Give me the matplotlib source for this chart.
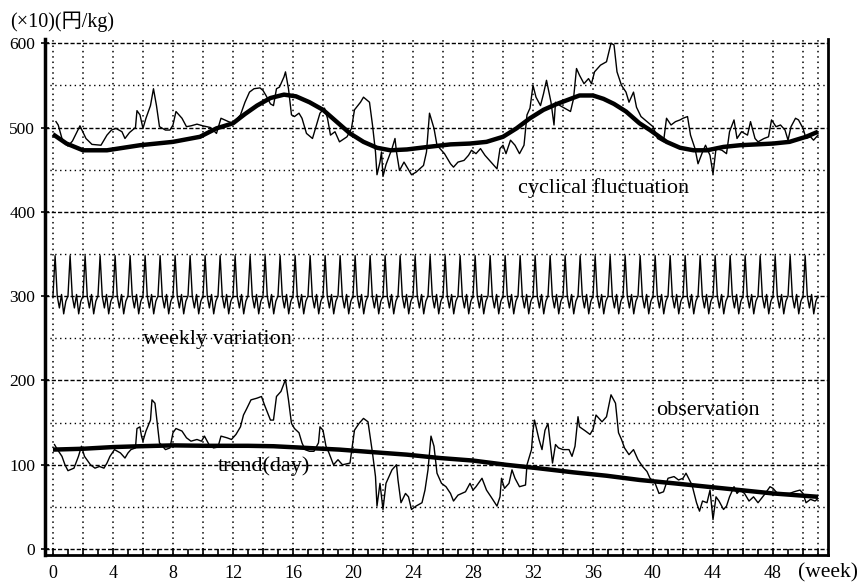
import matplotlib.pyplot as plt
from matplotlib.ticker import MultipleLocator, FuncFormatter
import numpy as np

# ---- フォント設定（欧文はTimes系、円記号はCJKで補う）----
plt.rcParams['font.family'] = ['Liberation Serif', 'Noto Sans CJK JP']
plt.rcParams['axes.unicode_minus'] = False

# ---- データ（週単位の時刻と値、単位：×10 円/kg）----
# 周期変動＋不規則変動（上段の細線）
resid_week = [0.2, 0.35, 0.6, 1.0, 1.3, 1.8, 2.2, 2.6, 3.2, 3.6, 3.9,
              4.2, 4.6, 4.8, 5.1, 5.5, 5.6, 5.8, 6.0, 6.2, 6.5, 6.7, 6.9, 7.1, 7.5, 7.8,
              8.0, 8.2, 8.6, 8.9, 9.2, 9.6, 10.0, 10.5, 10.9, 11.2, 11.7,
              12.0, 12.5, 12.8, 13.1, 13.4, 13.8, 14.0, 14.2, 14.5, 14.7, 14.9, 15.1, 15.4, 15.5, 15.7, 15.9,
              16.1, 16.4, 16.6, 16.9, 17.3, 17.5, 17.8, 18.1, 18.3, 18.5, 18.8, 19.1, 19.6, 19.9,
              20.1, 20.5, 20.7, 21.1, 21.3, 21.5, 21.6, 21.8, 21.9, 22.0, 22.2, 22.6, 22.8, 22.9, 23.1, 23.4, 23.6, 23.9,
              24.2, 24.7, 24.9, 25.1, 25.4, 25.6, 26.1, 26.5, 26.7, 27.0, 27.4, 27.7, 27.9,
              28.2, 28.5, 28.8, 29.2, 29.6, 29.8, 30.0, 30.2, 30.5, 30.8, 31.1, 31.4, 31.6, 31.8,
              32.0, 32.2, 32.5, 32.7, 32.9, 33.2, 33.4, 33.5, 33.8, 34.1, 34.5, 34.7, 34.9, 35.1, 35.4, 35.7, 35.9,
              36.1, 36.5, 36.7, 36.9, 37.2, 37.4, 37.6, 37.9, 38.2, 38.4, 38.7, 38.9, 39.2, 39.6,
              40.0, 40.3, 40.7, 40.9, 41.2, 41.5, 41.8, 42.0, 42.3, 42.5, 42.8, 43.0, 43.3, 43.5, 43.8,
              44.0, 44.2, 44.6, 44.9, 45.1, 45.4, 45.6, 45.9, 46.3, 46.5, 46.8, 47.0, 47.4, 47.7, 47.9,
              48.2, 48.5, 48.8, 49.0, 49.2, 49.5, 49.7, 50.0, 50.2, 50.5, 50.7, 51.0]
resid_value = [507, 503, 487, 478, 484, 502, 487, 480, 479, 491, 497,
               499, 495, 487, 494, 500, 520, 515, 499, 511, 526, 546, 526, 501, 497, 497,
               503, 519, 511, 501, 502, 504, 502, 500, 493, 511, 507,
               505, 515, 530, 542, 546, 547, 544, 538, 528, 526, 546, 548, 560, 566, 546, 515,
               513, 517, 511, 493, 487, 499, 517, 523, 511, 491, 495, 483, 489, 499,
               521, 530, 536, 530, 503, 471, 444, 459, 471, 442, 456, 475, 487, 471, 449, 459, 453, 444,
               447, 455, 471, 517, 499, 479, 469, 457, 453, 459, 461, 467, 473,
               469, 475, 467, 459, 451, 475, 479, 469, 485, 479, 469, 479, 515, 523,
               550, 536, 526, 540, 556, 530, 503, 530, 526, 523, 519, 534, 570, 562, 552, 558, 552,
               566, 574, 576, 578, 600, 598, 566, 550, 542, 530, 542, 524, 513, 507,
               501, 487, 483, 511, 503, 507, 509, 511, 513, 491, 475, 457, 471, 479, 467,
               445, 475, 473, 469, 495, 509, 487, 495, 491, 507, 487, 483, 487, 489, 509,
               501, 503, 497, 485, 501, 511, 509, 499, 487, 489, 485, 491]

# 周期変動（上段の太線）
cycle_week = [0.0, 0.9, 2.0, 3.6, 5.8, 8.0, 9.8, 10.9, 12.0, 12.8,
              13.6, 14.5, 15.4, 16.2, 17.1, 18.0, 18.9, 19.8, 20.7, 21.6,
              22.5, 23.6, 25.0, 26.5, 27.8, 28.9, 30.0, 30.9, 31.8, 32.7,
              33.6, 34.5, 35.1, 36.0, 36.7, 37.4, 38.2, 39.1, 39.8, 40.9,
              41.8, 42.7, 43.6, 44.7, 45.8, 46.9, 48.0, 49.1, 50.2, 51.0]
cycle_value = [492, 481, 473, 473, 479, 483, 489, 499, 505, 516,
               526, 535, 539, 537, 530, 521, 507, 493, 483, 476,
               473, 474, 477, 480, 481, 483, 489, 499, 511, 521,
               528, 534, 538, 538, 534, 528, 519, 505, 497, 483,
               476, 473, 473, 477, 479, 480, 481, 483, 489, 495]

# 週変動（曜日ごとの値、300を基準に表示）
weekday_value = [300, 348, 300, 286, 302, 279, 294]
n_days = 358

# 実測値（下段の細線）
obs_week = [0.1, 0.3, 0.6, 0.8, 1.0, 1.4, 1.7, 1.9, 2.1, 2.5, 2.8, 3.1, 3.4, 3.6, 3.8,
            4.1, 4.5, 4.8, 5.0, 5.2, 5.5, 5.6, 5.8, 5.9, 6.0, 6.2, 6.5, 6.6, 6.8, 7.0, 7.1, 7.5, 7.8,
            8.0, 8.2, 8.6, 8.9, 9.2, 9.6, 9.9, 10.1, 10.4, 10.7, 11.0, 11.2, 11.6, 11.9,
            12.2, 12.5, 12.7, 12.9, 13.2, 13.6, 13.9, 14.1, 14.5, 14.7, 14.9, 15.2, 15.5, 15.7, 15.9,
            16.1, 16.4, 16.6, 16.8, 17.1, 17.4, 17.7, 17.8, 18.0, 18.2, 18.4, 18.7, 19.0, 19.3, 19.8,
            20.1, 20.4, 20.7, 21.0, 21.3, 21.5, 21.6, 21.8, 22.0, 22.2, 22.6, 22.9, 23.0, 23.2, 23.5, 23.7, 23.9,
            24.2, 24.6, 24.8, 25.0, 25.2, 25.4, 25.6, 25.9, 26.2, 26.5, 26.7, 27.0, 27.5, 27.8,
            28.0, 28.2, 28.6, 28.9, 29.2, 29.6, 29.8, 29.9, 30.1, 30.4, 30.6, 30.8, 31.1, 31.5, 31.6, 31.9,
            32.0, 32.1, 32.4, 32.6, 32.8, 33.0, 33.2, 33.3, 33.5, 33.7, 34.0, 34.4, 34.6, 34.8, 35.0, 35.1, 35.5, 35.8,
            36.0, 36.2, 36.6, 36.9, 37.2, 37.5, 37.7, 37.9, 38.1, 38.4, 38.7, 39.0, 39.3, 39.6, 39.8,
            40.1, 40.4, 40.7, 41.0, 41.4, 41.7, 42.0, 42.2, 42.6, 42.9, 43.1, 43.3, 43.6, 43.8,
            44.0, 44.2, 44.4, 44.7, 44.9, 45.1, 45.4, 45.6, 45.8, 46.1, 46.4, 46.7, 47.0, 47.4, 47.8,
            48.0, 48.4, 48.7, 49.1, 49.4, 49.8, 50.0, 50.2, 50.5, 50.8, 51.0]
obs_value = [124, 118, 110, 100, 93, 96, 110, 122, 110, 100, 96, 98, 96, 102, 110,
             118, 114, 108, 114, 118, 120, 143, 145, 134, 128, 140, 153, 177, 173, 141, 126, 118, 120,
             138, 143, 140, 132, 128, 130, 128, 134, 124, 120, 121, 134, 132, 130,
             136, 145, 159, 166, 177, 179, 181, 171, 153, 153, 181, 187, 201, 177, 149,
             143, 138, 126, 118, 116, 116, 126, 145, 141, 122, 114, 100, 106, 100, 102,
             141, 149, 155, 151, 114, 86, 51, 78, 47, 78, 94, 100, 82, 55, 66, 62, 47,
             51, 55, 70, 94, 134, 122, 90, 78, 74, 66, 57, 64, 68, 78,
             70, 74, 84, 70, 62, 51, 62, 84, 72, 78, 94, 84, 74, 76, 100, 118,
             141, 153, 130, 118, 141, 149, 118, 102, 124, 120, 118, 118, 110, 122, 157, 145, 140, 136,
             142, 159, 151, 157, 183, 173, 138, 130, 120, 112, 118, 106, 98, 92, 84,
             80, 66, 68, 84, 86, 82, 84, 90, 76, 55, 45, 57, 55, 70,
             35, 62, 57, 47, 51, 62, 74, 66, 70, 66, 57, 62, 55, 64, 74,
             72, 64, 66, 66, 68, 70, 66, 55, 59, 57, 60]

# 傾向変動（下段の太線）
trend_week = [0.0, 2.0, 4.0, 5.8, 8.0, 10.2, 13.0, 14.7, 16.9, 19.1, 21.3, 23.6,
              25.8, 28.0, 30.2, 32.3, 34.7, 36.9, 39.1, 41.4, 43.6, 45.8, 48.0, 51.0]
trend_value = [118, 119, 121, 122, 123, 122.5, 122.5, 122, 120, 118, 115, 112,
               108, 105, 100, 96, 91, 87, 82, 78, 74, 70, 66, 62]

# ---- 作図 ----
fig = plt.figure(figsize=(8.59, 5.82), dpi=100)
ax = fig.add_axes([0.0524, 0.0464, 0.9116, 0.8866])

day = np.arange(n_days)
weekly = np.tile(weekday_value, n_days // 7 + 1)[:n_days]

thin = dict(color='black', lw=1.0)
thick = dict(color='black', lw=3.2, solid_capstyle='butt')
ax.plot(resid_week, resid_value, **thin)
ax.plot(cycle_week, cycle_value, **thick)
ax.plot(day / 7, weekly, **thin)
ax.plot(obs_week, obs_value, **thin)
ax.plot(trend_week, trend_value, **thick)

# 軸範囲と目盛
ax.set_xlim(-0.53, 51.67)
ax.set_ylim(-7, 605)
ax.xaxis.set_major_locator(MultipleLocator(2))
ax.xaxis.set_minor_locator(MultipleLocator(1))
ax.xaxis.set_major_formatter(FuncFormatter(
    lambda v, p: f"{int(round(v))}" if round(v) % 4 == 0 and v < 49 else ""))
ax.yaxis.set_major_locator(MultipleLocator(100))
ax.yaxis.set_minor_locator(MultipleLocator(50))

ax.tick_params(axis='x', which='major', direction='in', length=5, width=1.2,
               labelsize=13, pad=7)
ax.tick_params(axis='x', which='minor', direction='in', length=4, width=1.2)
ax.tick_params(axis='y', which='major', direction='inout', length=6, width=1.2,
               labelsize=12.5, pad=4)
ax.tick_params(axis='y', which='minor', length=0)

# 格子線：横は100ごとに破線・50ごとに点線、縦は2週ごとに点線
ax.grid(which='major', axis='y', color='black', lw=1.0, linestyle=(0, (3, 1.5)))
ax.grid(which='minor', axis='y', color='black', lw=1.0, linestyle=(0, (1, 2.5)))
ax.grid(which='major', axis='x', color='black', lw=1.1, linestyle=(0, (1, 2.5)))
ax.axvline(51, color='black', lw=1.1, linestyle=(0, (1, 2.5)))
ax.set_axisbelow(True)

ax.spines['top'].set_visible(False)
ax.spines['left'].set_linewidth(2.5)
ax.spines['right'].set_linewidth(2.0)
ax.spines['bottom'].set_linewidth(2.0)

# 系列名
label_size = 16
ax.text(31.0, 428, "cyclical fluctuation", fontsize=label_size, va='center', ha='left')
ax.text(6.0, 248, "weekly variation", fontsize=label_size, va='center', ha='left')
ax.text(40.2, 164, "observation", fontsize=label_size, va='center', ha='left')
ax.text(11.0, 98, "trend(day)", fontsize=label_size, va='center', ha='left')

fig.text(10 / 859, 1 - 22 / 582, "(×10)(円/kg)", fontsize=14.5, va='center', ha='left')
fig.text(798 / 859, 1 - 573 / 582, "(week)", fontsize=15.5, va='center', ha='left')

fig.savefig("out.png", dpi=100, facecolor='white')
